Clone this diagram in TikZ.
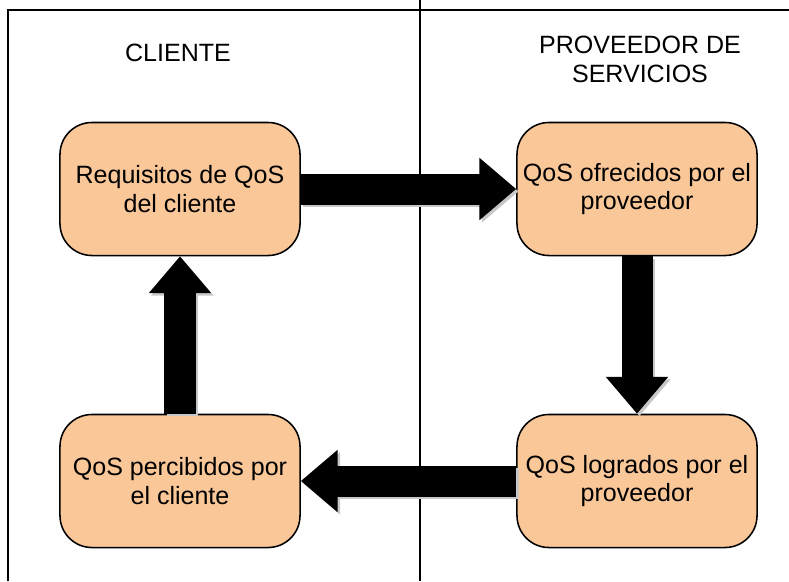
\documentclass[tikz,border=0pt]{standalone}
\usepackage{fontspec}
\setmainfont{Liberation Sans}
\usepackage{xcolor}
\definecolor{peach}{RGB}{250,199,152}
\usetikzlibrary{arrows.meta,positioning}

\begin{document}
\begin{tikzpicture}[
                x=0.025cm,y=-0.025cm,
                box/.style={draw,fill=peach,rounded corners=0.8cm,minimum width=6cm,minimum height=3.325cm,align=center,font=\fontsize{17.8}{20.5}\selectfont,line width=1.1pt,inner sep=2pt},
                head/.style={align=center,font=\fontsize{17.8}{20.5}\selectfont},
                bigarrow/.style={line width=0.775cm,-{Triangle[length=0.92cm,width=1.5cm]}},
                shade/.style={bigarrow,draw=black!22,transform canvas={shift={(0.06cm,-0.06cm)}}}
            ]
                \useasboundingbox (0,0) rectangle (789,581);
                % frame
                \draw[line width=0.9pt] (8,581) -- (8,10) -- (789,10);
                \draw[line width=0.9pt] (420,0) -- (420,581);
                \node[head] (cli) at (178,53) {CLIENTE};
                \node[head] (prov) at (640,59) {PROVEEDOR DE\\SERVICIOS};
                % boxes
                \node[box] (req) at (180,189) {Requisitos de QoS\\del cliente};
                \node[box] (ofr) at (637,189) {QoS ofrecidos por el\\proveedor};
                \node[box] (log) at (637,481) {QoS logrados por el\\proveedor};
                \node[box] (per) at (180,481) {QoS percibidos por\\el cliente};
                % arrows
                \foreach \a/\b in {req/ofr,ofr/log,log/per,per/req} {
                    \draw[shade] (\a) -- (\b);
                    \draw[bigarrow] (\a) -- (\b);
                }
            \end{tikzpicture}
\end{document}
